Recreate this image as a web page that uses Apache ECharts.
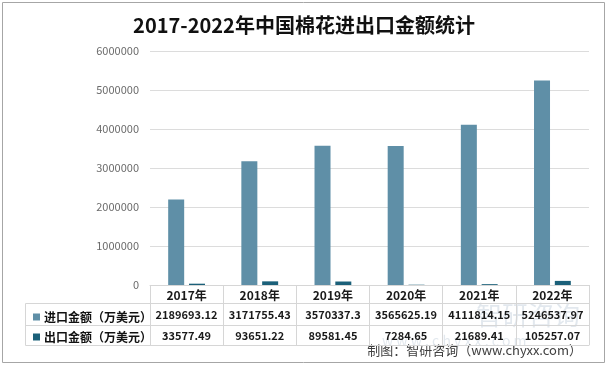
<!DOCTYPE html>
<html>
<head>
<meta charset="utf-8">
<script src="https://cdn.jsdelivr.net/npm/echarts@6/dist/echarts.min.js"></script>
<style>html,body{margin:0;padding:0;background:#fff;}#c{width:608px;height:366px;}</style>
</head>
<body>
<div id="c"></div>
<script>
const years = ['2017', '2018', '2019', '2020', '2021', '2022'];
const importValues = [2189693.12, 3171755.43, 3570337.3, 3565625.19, 4111814.15, 5246537.97];
const exportValues = [33577.49, 93651.22, 89581.45, 7284.65, 21689.41, 105257.07];
const seriesNames = ['进口金额（万美元）', '出口金额（万美元）'];
const yTicks = { min: 0, max: 6000000, interval: 1000000 };
const titleText = '2017-2022年中国棉花进出口金额统计';
const sourceText = '制图：智研咨询（www.chyxx.com）';

const FONT = '"Noto Sans CJK SC", "Noto Sans", sans-serif';
const LINE = '#d6d6d6';
const chart = echarts.init(document.getElementById('c'), null, { renderer: 'canvas' });

function tableAxis(data, offset, tickLen, showLabel, fontSize, margin) {
  return {
    type: 'category', data: data, position: 'bottom', offset: offset, gridIndex: 0,
    boundaryGap: true,
    axisLine: { show: true, lineStyle: { color: LINE, width: 1 } },
    axisTick: { show: tickLen > 0, length: tickLen, lineStyle: { color: LINE, width: 1 } },
    axisLabel: { show: showLabel, interval: 0, margin: margin, color: '#1a1a1a', fontWeight: 'bold', fontSize: fontSize, fontFamily: FONT },
    splitLine: { show: false }
  };
}

const yearAxis = tableAxis(years, 0, 18, true, 12, 4);
yearAxis.axisLabel.formatter = v => v + '年';

const option = {
  backgroundColor: '#ffffff',
  animation: false,
  title: {
    text: titleText, left: 'center', top: 10,
    textStyle: { fontFamily: FONT, fontSize: 20, fontWeight: 'bold', color: '#111' }
  },
  grid: { left: 150, right: 19, top: 51, bottom: 81, containLabel: false },
  legend: {
    orient: 'vertical', left: 28, top: 306, itemWidth: 7, itemHeight: 7, itemGap: 8,
    icon: 'rect', selectedMode: false,
    textStyle: { fontFamily: FONT, fontSize: 12, fontWeight: 'bold', color: '#111', padding: [0, 0, 0, -1] },
    data: seriesNames
  },
  xAxis: [
    yearAxis,
    tableAxis(importValues.map(String), 18, 22, true, 11, 6),
    tableAxis(exportValues.map(String), 40, 20, true, 11, 5),
    tableAxis(years, 60, 0, false, 11, 5)
  ],
  yAxis: {
    type: 'value', min: yTicks.min, max: yTicks.max, interval: yTicks.interval,
    axisLine: { show: false }, axisTick: { show: false },
    axisLabel: { color: '#6b6b6b', fontSize: 11, fontFamily: FONT, margin: 11, formatter: v => String(v) },
    splitLine: { lineStyle: { color: '#dcdcdc', width: 1 } }
  },
  series: [
    { name: seriesNames[0], type: 'bar', xAxisIndex: 0, data: importValues, barWidth: 16, barGap: '30%', itemStyle: { color: '#5f8fa7' } },
    { name: seriesNames[1], type: 'bar', xAxisIndex: 0, data: exportValues, barWidth: 16, barGap: '30%', itemStyle: { color: '#1b6079' } }
  ],
  graphic: [
    { type: 'rect', shape: { x: 2.5, y: 2.5, width: 602, height: 360 }, style: { fill: 'none', stroke: '#a6a6a6', lineWidth: 1 }, silent: true },
    { type: 'line', shape: { x1: 25.5, y1: 303.5, x2: 150, y2: 303.5 }, style: { stroke: LINE, lineWidth: 1 } },
    { type: 'line', shape: { x1: 25.5, y1: 325.5, x2: 150, y2: 325.5 }, style: { stroke: LINE, lineWidth: 1 } },
    { type: 'line', shape: { x1: 25.5, y1: 345.5, x2: 150, y2: 345.5 }, style: { stroke: LINE, lineWidth: 1 } },
    { type: 'line', shape: { x1: 25.5, y1: 303.5, x2: 25.5, y2: 345.5 }, style: { stroke: LINE, lineWidth: 1 } },
    { type: 'text', left: 476, top: 302, z: 0, style: { text: '智研咨询', fontSize: 26, fontFamily: FONT, fill: 'rgba(110,140,170,0.2)' } },
    { type: 'text', left: 382, top: 334, z: 0, style: { text: 'w w w . c h y x x . c o m', fontSize: 14, fontFamily: FONT, fill: 'rgba(110,140,170,0.2)' } },
    { type: 'text', right: 26, top: 344, style: { text: sourceText, fontSize: 13, fontFamily: FONT, fill: '#404040' } }
  ]
};
chart.setOption(option);
</script>
</body>
</html>
